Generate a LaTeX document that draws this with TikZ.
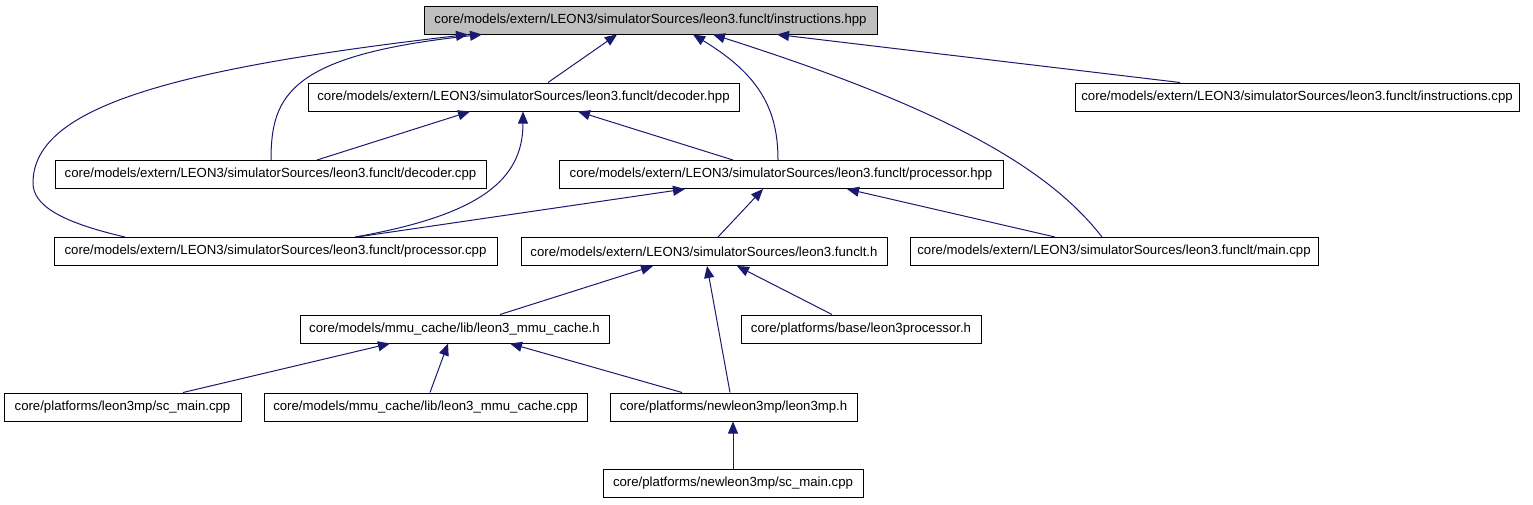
\documentclass[tikz,border=0pt]{standalone}
\usepackage{fontspec}
\setmainfont{Liberation Sans}
\usepackage{xcolor}
\usetikzlibrary{arrows.meta}
\definecolor{edgeblue}{HTML}{191970}
\definecolor{rootgray}{HTML}{BFBFBF}

\begin{document}
\begin{tikzpicture}[x=0.75pt,y=-0.75pt,
  file/.style={draw,line width=0.75pt,minimum height=21pt,inner sep=0pt,font=\fontsize{9.9}{12}\selectfont},
  dep/.style={draw=edgeblue,line width=0.75pt,-{Triangle[length=9pt,width=7.5pt]}}]
\useasboundingbox (0,0) rectangle (1533,504);
\node[file,fill=rootgray,minimum width=339.75pt] (instr_hpp) at (650.5,20) {core/models/extern/LEON3/simulatorSources/leon3.funclt/instructions.hpp};
\node[file,minimum width=323.25pt] (dec_hpp) at (523.5,97) {core/models/extern/LEON3/simulatorSources/leon3.funclt/decoder.hpp};
\node[file,minimum width=333pt] (instr_cpp) at (1297,97) {core/models/extern/LEON3/simulatorSources/leon3.funclt/instructions.cpp};
\node[file,minimum width=323.25pt] (dec_cpp) at (270.5,174.5) {core/models/extern/LEON3/simulatorSources/leon3.funclt/decoder.cpp};
\node[file,minimum width=333pt] (proc_hpp) at (781,174.5) {core/models/extern/LEON3/simulatorSources/leon3.funclt/processor.hpp};
\node[file,minimum width=332.25pt] (proc_cpp) at (275.5,251.5) {core/models/extern/LEON3/simulatorSources/leon3.funclt/processor.cpp};
\node[file,minimum width=274.5pt] (funclt_h) at (704,251.5) {core/models/extern/LEON3/simulatorSources/leon3.funclt.h};
\node[file,minimum width=306pt] (main_cpp) at (1114,251.5) {core/models/extern/LEON3/simulatorSources/leon3.funclt/main.cpp};
\node[file,minimum width=231.75pt] (mmu_h) at (454.5,329) {core/models/mmu\_cache/lib/leon3\_mmu\_cache.h};
\node[file,minimum width=180pt] (procbase_h) at (861,329) {core/platforms/base/leon3processor.h};
\node[file,minimum width=177.75pt] (sc_main) at (122.5,407) {core/platforms/leon3mp/sc\_main.cpp};
\node[file,minimum width=242.25pt] (mmu_cpp) at (425.5,407) {core/models/mmu\_cache/lib/leon3\_mmu\_cache.cpp};
\node[file,minimum width=185.25pt] (leon3mp_h) at (733.5,407) {core/platforms/newleon3mp/leon3mp.h};
\node[file,minimum width=195pt] (new_sc_main) at (733,483.5) {core/platforms/newleon3mp/sc\_main.cpp};
\draw[dep] (dec_hpp.north -| 548,0) -- (instr_hpp.south -| 617,0);
\draw[dep] (dec_cpp.north -| 271,0) .. controls (271,95) and (290,55) .. (instr_hpp.south -| 482,0);
\draw[dep] (proc_cpp.north -| 125,0) .. controls (60,222) and (33,205) .. (33,183) .. controls (33,110) and (160,70) .. (instr_hpp.south -| 468,0);
\draw[dep] (proc_hpp.north -| 778,0) .. controls (778,110) and (760,75) .. (instr_hpp.south -| 693,0);
\draw[dep] (main_cpp.north -| 1102,0) .. controls (1050,170) and (950,110) .. (instr_hpp.south -| 713,0);
\draw[dep] (instr_cpp.north -| 1180,0) -- (instr_hpp.south -| 777,0);
\draw[dep] (dec_cpp.north -| 317,0) -- (dec_hpp.south -| 470,0);
\draw[dep] (proc_cpp.north -| 355,0) .. controls (480,215) and (523,180) .. (dec_hpp.south -| 523,0);
\draw[dep] (proc_hpp.north -| 733,0) -- (dec_hpp.south -| 578,0);
\draw[dep] (proc_cpp.north -| 357,0) -- (proc_hpp.south -| 685,0);
\draw[dep] (funclt_h.north -| 718,0) -- (proc_hpp.south -| 763,0);
\draw[dep] (main_cpp.north -| 1055,0) -- (proc_hpp.south -| 847,0);
\draw[dep] (mmu_h.north -| 500,0) -- (funclt_h.south -| 653,0);
\draw[dep] (leon3mp_h.north -| 730,0) -- (funclt_h.south -| 707,0);
\draw[dep] (procbase_h.north -| 832,0) -- (funclt_h.south -| 737,0);
\draw[dep] (sc_main.north -| 183,0) -- (mmu_h.south -| 390,0);
\draw[dep] (mmu_cpp.north -| 430,0) -- (mmu_h.south -| 448,0);
\draw[dep] (leon3mp_h.north -| 682,0) -- (mmu_h.south -| 510,0);
\draw[dep] (new_sc_main.north -| 733,0) -- (leon3mp_h.south -| 733,0);
\end{tikzpicture}
\end{document}
